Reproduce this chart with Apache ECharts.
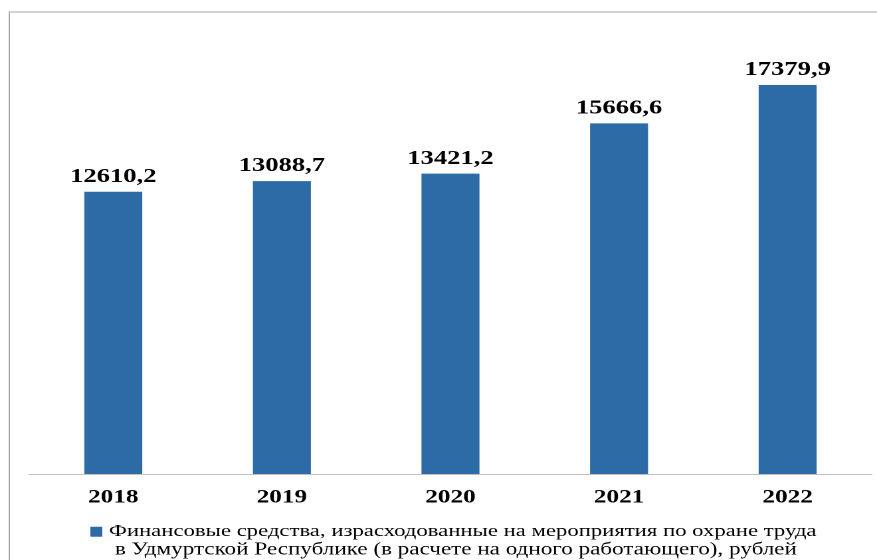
<!DOCTYPE html>
<html>
<head>
<meta charset="utf-8">
<script src="https://cdn.jsdelivr.net/npm/echarts@6/dist/echarts.min.js"></script>
<style>
  html, body { margin: 0; padding: 0; background: #ffffff; overflow: hidden; }
  #chart { width: 660px; height: 560px; transform: scaleX(1.32879); transform-origin: 0 0; }
</style>
</head>
<body>
<div id="chart"></div>
<script>
const categories = ['2018', '2019', '2020', '2021', '2022'];
const values = [12610.2, 13088.7, 13421.2, 15666.6, 17379.9];
const seriesName = 'Финансовые средства, израсходованные на мероприятия по охране труда\nв Удмуртской Республике (в расчете на одного работающего), рублей';

const chart = echarts.init(document.getElementById('chart'), null, { renderer: 'canvas', devicePixelRatio: 2 });
const serif = '"Liberation Serif", "Times New Roman", serif';

chart.setOption({
  animation: false,
  textStyle: { fontFamily: serif },
  graphic: [{
    type: 'rect',
    silent: true,
    shape: { x: 7, y: 12, width: 2000, height: 2000 },
    style: { fill: 'none', stroke: '#a6a6a6', lineWidth: 1 }
  }],
  grid: { left: 21.8, right: 3.8, top: 26.4, bottom: 86, containLabel: false },
  xAxis: {
    type: 'category',
    data: categories,
    axisLine: { lineStyle: { color: '#bfbfbf', width: 1 } },
    axisTick: { show: false },
    axisLabel: { fontFamily: serif, fontWeight: 'bold', fontSize: 19, color: '#000', margin: 14 }
  },
  yAxis: {
    type: 'value',
    min: 0,
    max: 20000,
    show: false,
    splitLine: { show: false }
  },
  legend: {
    left: 63,
    top: 518,
    itemWidth: 9,
    itemHeight: 10,
    icon: 'rect',
    data: [seriesName],
    formatter: function (name) {
      const lines = name.split('\n');
      return '{a|' + lines[0] + '}\n{b|' + lines[1] + '}';
    },
    textStyle: {
      fontFamily: serif,
      padding: [18, 0, 0, 0],
      rich: {
        a: { fontFamily: serif, fontSize: 17.1, lineHeight: 18.5, color: '#000' },
        b: { fontFamily: serif, fontSize: 17.4, lineHeight: 18.5, color: '#000', padding: [0, 0, 0, 4.5] }
      }
    }
  },
  series: [{
    name: seriesName,
    type: 'bar',
    data: values,
    barWidth: '34.4%',
    itemStyle: { color: '#2d6ba6' },
    label: {
      show: true,
      position: 'top',
      distance: 5,
      color: '#000',
      formatter: function (p) { return '{v|' + p.value.toFixed(1).replace('.', ',') + '}'; },
      rich: {
        v: { fontFamily: serif, fontWeight: 'bold', fontSize: 20, color: '#000' }
      }
    }
  }]
});
</script>
</body>
</html>
